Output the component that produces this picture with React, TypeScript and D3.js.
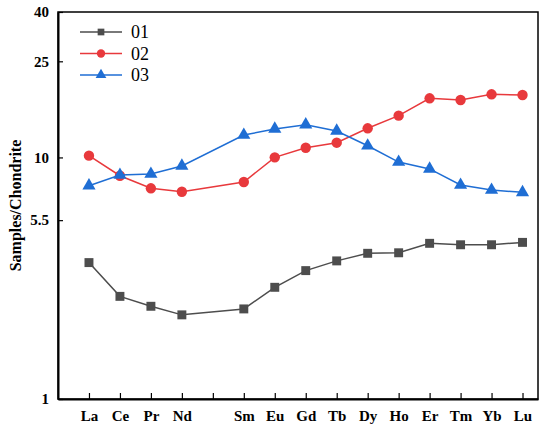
import * as React from 'react';
import * as d3 from 'd3';

const elements = ['La', 'Ce', 'Pr', 'Nd', '', 'Sm', 'Eu', 'Gd', 'Tb', 'Dy', 'Ho', 'Er', 'Tm', 'Yb', 'Lu'];
const yTicks = [1, 5.5, 10, 25, 40];

// values per element (Pm position left empty)
const s01 = [3.67, 2.66, 2.42, 2.23, null, 2.36, 2.90, 3.40, 3.73, 4.01, 4.03, 4.41, 4.35, 4.35, 4.45];
const s02 = [10.17, 8.40, 7.45, 7.21, null, 7.91, 10.01, 10.97, 11.51, 13.2, 14.89, 17.57, 17.29, 18.25, 18.13];
const s03 = [7.64, 8.46, 8.54, 9.22, null, 12.38, 13.12, 13.66, 12.87, 11.18, 9.57, 8.96, 7.69, 7.33, 7.17];

const seriesNames = ['01', '02', '03'];
const seriesColors = ['#4d4d4d', '#e8393c', '#1f6ed4'];
const seriesSymbols = [d3.symbolSquare, d3.symbolCircle, d3.symbolTriangle];
const markerSizes = [80, 85, 75];
const legendSizes = [45, 55, 50];

const W = 550;
const H = 427;
const left = 58, right = 538, top = 12, bottom = 399;
const serif = '"Liberation Serif", "Times New Roman", serif';

const App: React.FunctionComponent = () => {
    const ref = React.useRef<SVGSVGElement>(null);

    React.useEffect(() => {
        if (!ref.current) {
            return;
        }
        const svg = d3.select(ref.current);
        svg.selectAll('*').remove();

        const x = d3.scaleLinear().domain([-1, 14.5]).range([left, right]);
        const y = d3.scaleLog().domain([1, 40]).range([bottom, top]);

        // frame
        svg.append('rect')
            .attr('x', left).attr('y', top)
            .attr('width', right - left).attr('height', bottom - top)
            .attr('fill', 'none').attr('stroke', '#000').attr('stroke-width', 1.5);

        // x axis, ticks inward
        const xAxis = d3.axisBottom(x)
            .tickValues(d3.range(elements.length))
            .tickFormat((d) => elements[d as number])
            .tickSizeInner(-6).tickSizeOuter(0).tickPadding(11);
        const gx = svg.append('g').attr('transform', `translate(0,${bottom})`).call(xAxis);
        gx.select('.domain').attr('stroke-width', 2);
        gx.selectAll('.tick line').attr('stroke-width', 1.2);
        gx.selectAll('text')
            .attr('font-family', serif)
            .attr('font-weight', 'bold').attr('font-size', 15).attr('fill', '#000');

        const yAxis = d3.axisLeft(y)
            .tickValues(yTicks)
            .tickFormat((d) => String(d))
            .tickSizeInner(-5).tickSizeOuter(0).tickPadding(9);
        const gy = svg.append('g').attr('transform', `translate(${left},0)`).call(yAxis);
        gy.select('.domain').attr('stroke-width', 2);
        gy.selectAll('.tick line').attr('stroke-width', 1.2);
        gy.selectAll('text')
            .attr('font-family', serif)
            .attr('font-weight', 'bold').attr('font-size', 15).attr('fill', '#000');

        svg.append('text')
            .attr('transform', `translate(21,${(top + bottom) / 2}) rotate(-90)`)
            .attr('text-anchor', 'middle')
            .attr('font-family', serif)
            .attr('font-weight', 'bold').attr('font-size', 16)
            .text('Samples/Chondrite');

        const allSeries = [s01, s02, s03];
        allSeries.forEach((data, si) => {
            const pts = data.map((v, i) => ({ v, i })).filter((p) => p.v !== null);
            const line = d3.line<{ v: number | null; i: number }>()
                .x((p) => x(p.i))
                .y((p) => y(p.v as number));
            svg.append('path')
                .attr('d', line(pts) as string)
                .attr('fill', 'none')
                .attr('stroke', seriesColors[si])
                .attr('stroke-width', 1.5);
            svg.append('g').selectAll('path')
                .data(pts)
                .join('path')
                .attr('transform', (p) => `translate(${x(p.i)},${y(p.v as number)})`)
                .attr('d', d3.symbol().type(seriesSymbols[si]).size(markerSizes[si])() as string)
                .attr('fill', seriesColors[si]);
        });

        // legend
        const legend = svg.append('g');
        seriesNames.forEach((name, si) => {
            const ly = 32 + si * 21.5;
            legend.append('line')
                .attr('x1', 80).attr('x2', 122).attr('y1', ly).attr('y2', ly)
                .attr('stroke', seriesColors[si]).attr('stroke-width', 1.5);
            legend.append('path')
                .attr('transform', `translate(101,${ly})`)
                .attr('d', d3.symbol().type(seriesSymbols[si]).size(legendSizes[si])() as string)
                .attr('fill', seriesColors[si]);
            legend.append('text')
                .attr('x', 131).attr('y', ly + 6)
                .attr('font-family', serif)
                .attr('font-size', 18)
                .text(name);
        });
    });

    return <svg ref={ref} width={W} height={H} style={{ position: 'absolute', left: 0, top: 0, background: '#fff' }} />;
};

export default App;
